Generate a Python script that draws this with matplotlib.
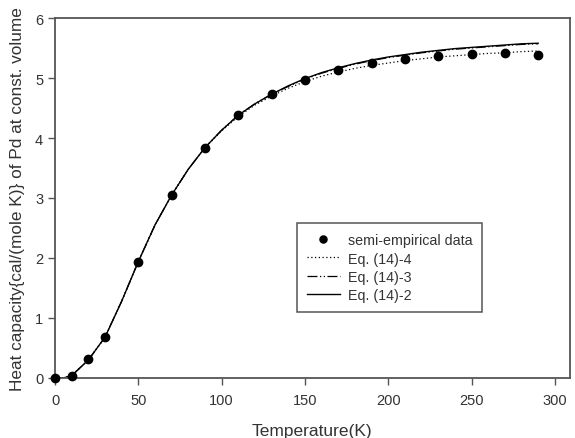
import matplotlib.pyplot as plt
import numpy as np

plt.rcParams['font.family'] = ['Liberation Sans', 'DejaVu Sans']

# semi-empirical points
t_data = [0, 10, 20, 30, 50, 70, 90, 110, 130, 150, 170, 190, 210, 230, 250, 270, 290]
cv_data = [0.0, 0.04, 0.32, 0.68, 1.94, 3.05, 3.84, 4.38, 4.73, 4.97, 5.14, 5.25,
           5.32, 5.37, 5.40, 5.41, 5.39]

# model curves (read every 10 K)
t_curve = [0, 5, 10, 20, 30, 40, 50, 60, 70, 80, 90, 100, 110, 120, 130, 140, 150,
           160, 170, 180, 190, 200, 210, 220, 230, 240, 250, 260, 270, 280, 290]
eq_14_2 = [0.0, 0.0, 0.04, 0.30, 0.68, 1.28, 1.94, 2.55, 3.05, 3.48, 3.84, 4.13, 4.38,
           4.57, 4.73, 4.87, 4.99, 5.09, 5.17, 5.24, 5.30, 5.35, 5.39, 5.43, 5.46,
           5.49, 5.51, 5.53, 5.55, 5.57, 5.58]
eq_14_3 = [0.0, 0.0, 0.04, 0.30, 0.68, 1.28, 1.94, 2.55, 3.05, 3.48, 3.84, 4.13, 4.38,
           4.57, 4.73, 4.86, 4.98, 5.08, 5.16, 5.23, 5.29, 5.34, 5.38, 5.42, 5.45,
           5.48, 5.50, 5.52, 5.54, 5.56, 5.57]
eq_14_4 = [0.0, 0.0, 0.04, 0.30, 0.68, 1.28, 1.94, 2.55, 3.05, 3.48, 3.84, 4.12, 4.36,
           4.55, 4.70, 4.83, 4.94, 5.03, 5.10, 5.16, 5.21, 5.25, 5.29, 5.32, 5.35,
           5.37, 5.39, 5.41, 5.42, 5.44, 5.45]

text_color = '#333333'
edge_color = '#555555'

fig = plt.figure(figsize=(5.75, 4.39), dpi=100)
ax = fig.add_axes([0.0957, 0.1367, 0.8953, 0.82])

ax.plot(t_data, cv_data, 'o', color='black', markersize=6, label='semi-empirical data',
        clip_on=False, zorder=5)
ax.plot(t_curve, eq_14_4, linestyle=(0, (1, 2)), color='black', linewidth=0.9, label='Eq. (14)-4')
ax.plot(t_curve, eq_14_3, linestyle=(0, (8, 2, 1, 2, 1, 2)), color='black', linewidth=0.9,
        label='Eq. (14)-3')
ax.plot(t_curve, eq_14_2, linestyle='-', color='black', linewidth=1.0, label='Eq. (14)-2')

ax.set_xlim(0, 309)
ax.set_ylim(0, 6)
ax.set_xticks([0, 50, 100, 150, 200, 250, 300])
ax.set_yticks([0, 1, 2, 3, 4, 5, 6])

for s in ax.spines.values():
    s.set_color(edge_color)
    s.set_linewidth(1.3)
ax.tick_params(direction='out', length=5, width=1.0, color=edge_color,
               labelsize=10.5, labelcolor=text_color, top=False, right=False)
ax.tick_params(axis='x', pad=6)

ax.set_xlabel('Temperature(K)', fontsize=12.5, color=text_color, labelpad=11)
ax.set_ylabel('Heat capacity{cal/(mole K)} of Pd at const. volume', fontsize=12.4,
              color=text_color, labelpad=7)

leg = ax.legend(loc='upper left', bbox_to_anchor=(0.47, 0.43), fontsize=10.3,
                frameon=True, fancybox=False, framealpha=1, edgecolor=edge_color,
                handlelength=2.3, handletextpad=0.55, borderpad=0.7, labelspacing=0.3,
                borderaxespad=0, markerscale=0.85)
leg.get_frame().set_linewidth(1.1)
for t in leg.get_texts():
    t.set_color(text_color)

fig.savefig('out.png', dpi=100)
